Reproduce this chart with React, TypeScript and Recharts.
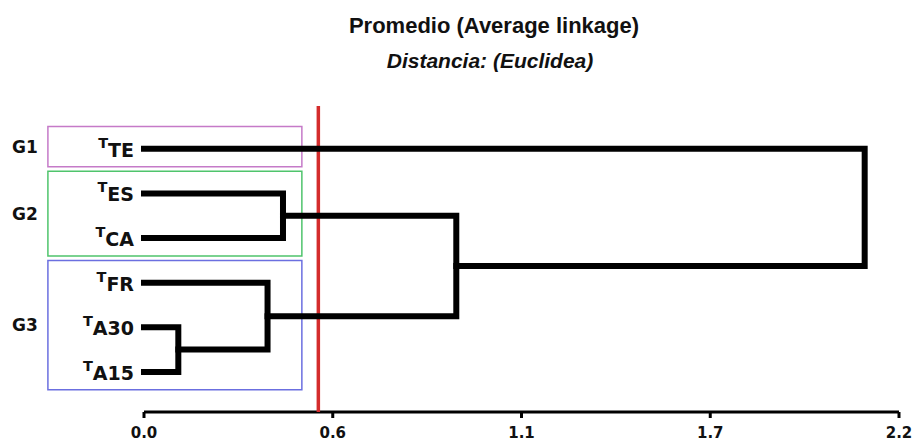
import React from "react";
import {
  ComposedChart,
  Scatter,
  XAxis,
  YAxis,
  ReferenceLine,
  ReferenceArea,
} from "recharts";

// leaves, top to bottom
const leafNames = ["TE", "ES", "CA", "FR", "A30", "A15"];

// linkage: node ids 0-5 are leaves, merges create ids 6, 7, ...
const mergeA = [4, 3, 1, 8, 0];
const mergeB = [5, 6, 2, 7, 9];
const mergeHeight = [0.1, 0.36, 0.405, 0.91, 2.1];

const cutHeight = 0.508;

const xTicks = [0, 0.55, 1.1, 1.65, 2.2];
const xTickLabels = ["0.0", "0.6", "1.1", "1.7", "2.2"];

const groupNames = ["G1", "G2", "G3"];
const groupFirstLeaf = [0, 1, 3];
const groupLastLeaf = [0, 2, 5];
const groupColors = ["#c57ac8", "#4fc46c", "#6b6fe0"];

const FONT = "'DejaVu Sans', Verdana, sans-serif";
const Y_DOMAIN: [number, number] = [-0.96, 6.01];
const AXIS_Y = 5.9; // where the distance axis line sits

type Pt = { x: number; y: number };

function buildLinks(): Pt[][] {
  const nx: number[] = leafNames.map(() => 0);
  const ny: number[] = leafNames.map((_, i) => i);
  const links: Pt[][] = [];
  mergeHeight.forEach((h, i) => {
    const a = mergeA[i];
    const b = mergeB[i];
    links.push([
      { x: nx[a], y: ny[a] },
      { x: h, y: ny[a] },
      { x: h, y: ny[b] },
      { x: nx[b], y: ny[b] },
    ]);
    nx.push(h);
    ny.push((ny[a] + ny[b]) / 2);
  });
  return links;
}

const links = buildLinks();

function LeafTick(props: any) {
  const { y, payload } = props;
  const name = leafNames[payload.value];
  if (name === undefined) return null;
  return (
    <text
      x={134}
      y={y}
      textAnchor="end"
      fontFamily={FONT}
      fontWeight="bold"
      fill="#111"
    >
      <tspan fontSize="14.5px" dy={-1}>
        T
      </tspan>
      <tspan fontSize="19px" dy={9}>
        {name}
      </tspan>
    </text>
  );
}

function DistTick(props: any) {
  const { x, payload } = props;
  const label = xTickLabels[xTicks.indexOf(payload.value)] ?? "";
  return (
    <g>
      <line x1={x} x2={x} y1={412} y2={418} stroke="#000" strokeWidth={3} />
      <text
        x={x}
        y={438}
        textAnchor="middle"
        fontFamily={FONT}
        fontWeight="bold"
        fontSize="15px"
        fill="#111"
      >
        {label}
      </text>
    </g>
  );
}

export default function App() {
  return (
    <div
      style={{
        position: "absolute",
        left: 0,
        top: 0,
        width: 915,
        height: 441,
        background: "#fff",
      }}
    >
      <ComposedChart
        width={915}
        height={441}
        margin={{ top: 106, right: 16, bottom: 0, left: 0 }}
      >
        <XAxis
          type="number"
          dataKey="x"
          domain={[0, 2.2]}
          ticks={xTicks}
          height={24}
          axisLine={false}
          tickLine={false}
          tick={<DistTick />}
        />
        <YAxis
          type="number"
          dataKey="y"
          domain={Y_DOMAIN}
          reversed
          ticks={[0, 1, 2, 3, 4, 5]}
          interval={0}
          width={144}
          axisLine={false}
          tickLine={false}
          tick={<LeafTick />}
        />
        {links.map((pts, i) => (
          <Scatter
            key={i}
            data={pts}
            isAnimationActive={false}
            shape={() => <g />}
            line={{
              stroke: "#000",
              strokeWidth: 6,
              strokeLinecap: "square",
              strokeLinejoin: "miter",
            }}
          />
        ))}
        {groupNames.map((g, i) => (
          <ReferenceArea
            key={g}
            x1={-0.28}
            x2={0.46}
            y1={groupFirstLeaf[i] - 0.5}
            y2={groupLastLeaf[i] + 0.4}
            ifOverflow="visible"
            fill="none"
            fillOpacity={0}
            stroke={groupColors[i]}
            strokeWidth={1.5}
            label={{
              value: g,
              position: "left",
              offset: 10,
              fill: "#111",
              fontSize: 17,
              fontWeight: "bold",
              fontFamily: FONT,
            }}
          />
        ))}
        {/* x axis line */}
        <ReferenceLine y={AXIS_Y} stroke="#000" strokeWidth={3} />
        <ReferenceLine
          segment={[
            { x: cutHeight, y: Y_DOMAIN[0] },
            { x: cutHeight, y: AXIS_Y },
          ]}
          stroke="#d42c2c"
          strokeWidth={3.5}
        />
      </ComposedChart>
      <svg
        width={915}
        height={441}
        style={{ position: "absolute", left: 0, top: 0, pointerEvents: "none" }}
      >
        <text
          x={494}
          y={33}
          textAnchor="middle"
          fontFamily="'Liberation Sans', Arial, sans-serif"
          fontWeight="bold"
          fontSize={22}
          fill="#111"
        >
          Promedio (Average linkage)
        </text>
        <text
          x={490}
          y={68}
          textAnchor="middle"
          fontFamily="'Liberation Sans', Arial, sans-serif"
          fontStyle="italic"
          fontWeight="bold"
          fontSize={21}
          fill="#111"
        >
          Distancia: (Euclidea)
        </text>
      </svg>
    </div>
  );
}
